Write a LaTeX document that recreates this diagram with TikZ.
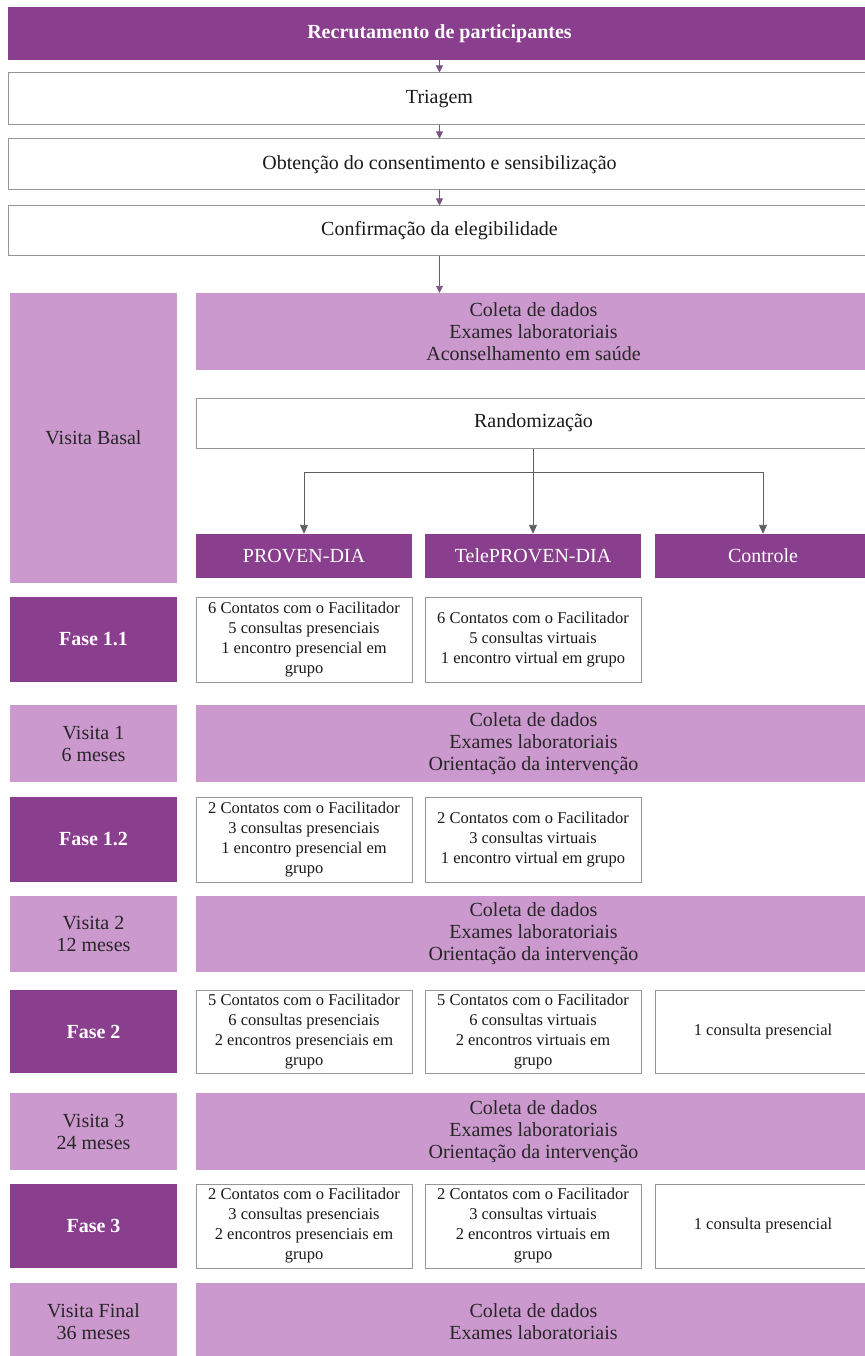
\documentclass[tikz,border=0pt]{standalone}
\usepackage{fontspec}
\setmainfont{Liberation Serif}
\usetikzlibrary{arrows.meta,backgrounds}
\definecolor{roxo}{RGB}{137,62,142}
\definecolor{lilas}{RGB}{204,153,207}
\definecolor{borda}{RGB}{150,150,150}
\definecolor{linha}{RGB}{95,95,95}
\definecolor{setaroxa}{RGB}{125,80,135}
\begin{document}
\begin{tikzpicture}[x=1pt,y=-1pt,
  every node/.style={inner sep=0pt,align=center,font=\fontsize{20}{22}\selectfont},
  escuro/.style={fill=roxo,text=white,font=\fontsize{20}{22}\selectfont\bfseries},
  cabeca/.style={fill=roxo,text=white,minimum width=216pt,minimum height=44pt},
  claro/.style={fill=lilas,text=black!85},
  branco/.style={draw=borda,fill=white,line width=1pt,text=black!90},
  caixa/.style={branco,minimum width=216pt,minimum height=85pt,font=\fontsize{16.5}{20}\selectfont},
  larga/.style={minimum width=675pt},
  esq/.style={minimum width=167pt},
  topo/.style={minimum width=863pt},
  liga/.style={draw=linha,line width=0.9pt},
  flecha/.style={draw=setaroxa,line width=0.9pt,-{Triangle[length=7pt,width=7pt]}},
  ramo/.style={liga,-{Triangle[length=9pt,width=8pt]}}]
  \fill[white] (0,0) rectangle (864,1356);%
  \useasboundingbox (0,0) rectangle (864,1356);%
  % etapas iniciais
  \node[escuro,topo,minimum height=53pt] (recr) at (439.5,33.5) {Recrutamento de participantes};
  \node[branco,topo,minimum height=52pt] (tria) at (439.5,99) {Triagem};
  \node[branco,topo,minimum height=51pt] (cons) at (439.5,164.5) {Obtenção do consentimento e sensibilização};
  \node[branco,topo,minimum height=49pt] (eleg) at (439.5,230.5) {Confirmação da elegibilidade};
  % visita basal
  \node[claro,esq,minimum height=290pt] (basal) at (93.5,438) {Visita Basal};
  \node[claro,larga,minimum height=77pt] (col0) at (533.5,331.5) {Coleta de dados\\Exames laboratoriais\\Aconselhamento em saúde};
  \node[branco,larga,minimum height=50pt] (rand) at (533.5,423) {Randomização};
  \node[cabeca] (pd) at (304,556) {PROVEN-DIA};
  \node[cabeca] (tpd) at (533,556) {TelePROVEN-DIA};
  \node[cabeca] (ctl) at (763,556) {Controle};
  % fase 1.1
  \node[escuro,esq,minimum height=85pt] (f11) at (93.5,639.5) {Fase 1.1};
  \node[caixa] (f11a) at (304,639.5) {6 Contatos com o Facilitador\\5 consultas presenciais\\1 encontro presencial em\\grupo};
  \node[caixa] (f11b) at (533,639.5) {6 Contatos com o Facilitador\\5 consultas virtuais\\1 encontro virtual em grupo};
  % visita 1
  \node[claro,esq,minimum height=77pt] (v1) at (93.5,743.5) {Visita 1\\6 meses};
  \node[claro,larga,minimum height=77pt] (v1d) at (533.5,743.5) {Coleta de dados\\Exames laboratoriais\\Orientação da intervenção};
  % fase 1.2
  \node[escuro,esq,minimum height=85pt] (f12) at (93.5,839.5) {Fase 1.2};
  \node[caixa] (f12a) at (304,839.5) {2 Contatos com o Facilitador\\3 consultas presenciais\\1 encontro presencial em\\grupo};
  \node[caixa] (f12b) at (533,839.5) {2 Contatos com o Facilitador\\3 consultas virtuais\\1 encontro virtual em grupo};
  % visita 2
  \node[claro,esq,minimum height=76pt] (v2) at (93.5,934) {Visita 2\\12 meses};
  \node[claro,larga,minimum height=76pt] (v2d) at (533.5,934) {Coleta de dados\\Exames laboratoriais\\Orientação da intervenção};
  % fase 2
  \node[escuro,esq,minimum height=83pt] (f2) at (93.5,1031.5) {Fase 2};
  \node[caixa,minimum height=83pt] (f2a) at (304,1031.5) {5 Contatos com o Facilitador\\6 consultas presenciais\\2 encontros presenciais em\\grupo};
  \node[caixa,minimum height=83pt] (f2b) at (533,1031.5) {5 Contatos com o Facilitador\\6 consultas virtuais\\2 encontros virtuais em\\grupo};
  \node[caixa,minimum height=83pt] (f2c) at (763,1031.5) {1 consulta presencial};
  % visita 3
  \node[claro,esq,minimum height=77pt] (v3) at (93.5,1131.5) {Visita 3\\24 meses};
  \node[claro,larga,minimum height=77pt] (v3d) at (533.5,1131.5) {Coleta de dados\\Exames laboratoriais\\Orientação da intervenção};
  % fase 3
  \node[escuro,esq,minimum height=84pt] (f3) at (93.5,1226) {Fase 3};
  \node[caixa,minimum height=84pt] (f3a) at (304,1226) {2 Contatos com o Facilitador\\3 consultas presenciais\\2 encontros presenciais em\\grupo};
  \node[caixa,minimum height=84pt] (f3b) at (533,1226) {2 Contatos com o Facilitador\\3 consultas virtuais\\2 encontros virtuais em\\grupo};
  \node[caixa,minimum height=84pt] (f3c) at (763,1226) {1 consulta presencial};
  % visita final
  \node[claro,esq,minimum height=77pt] (vf) at (93.5,1321.5) {Visita Final\\36 meses};
  \node[claro,larga,minimum height=77pt] (vfd) at (533.5,1321.5) {Coleta de dados\\Exames laboratoriais};
  % setas
  \draw[flecha] (recr) -- (tria);
  \draw[flecha] (tria) -- (cons);
  \draw[flecha] (cons) -- (eleg);
  \draw[flecha] (eleg) -- (eleg.south |- col0.north);
  \coordinate (divide) at (533,472);
  \draw[ramo] (rand.south -| tpd) -- (tpd.north);
  \draw[liga] (divide -| pd) -- (divide -| ctl);
  \draw[ramo] (divide -| pd) -- (pd.north);
  \draw[ramo] (divide -| ctl) -- (ctl.north);
  \begin{pgfonlayer}{background}
    \draw[liga] (pd.south) -- (pd.south |- vfd.north);
    \draw[liga] (tpd.south) -- (tpd.south |- vfd.north);
    \draw[liga] (ctl.south) -- (ctl.south |- vfd.north);
  \end{pgfonlayer}
\end{tikzpicture}
\end{document}
